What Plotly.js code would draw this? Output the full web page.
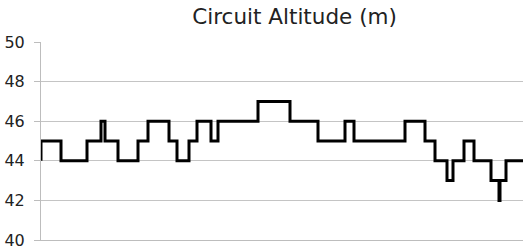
<!DOCTYPE html>
<html><head><meta charset="utf-8">
<script src="https://cdn.plot.ly/plotly-3.0.1.min.js"></script>
<style>html,body{margin:0;padding:0;background:#fff;}#chart{width:526px;height:250px;}</style>
</head><body><div id="chart"></div>
<script>
const distance = [0, 0, 20, 46, 60, 64, 77, 97, 107, 128, 136, 148, 156, 170, 177, 217, 249, 277, 304, 313, 364, 384, 394, 406, 412, 423, 433, 450, 458, 459, 465, 482];
const altitude = [44, 45, 44, 45, 46, 45, 44, 45, 46, 45, 44, 45, 46, 45, 46, 47, 46, 45, 46, 45, 46, 45, 44, 43, 44, 45, 44, 43, 42, 43, 44, 44];
const yTicks = [40, 42, 44, 46, 48, 50];
const chartTitle = 'Circuit Altitude (m)';

Plotly.newPlot('chart', [{
  x: distance, y: altitude, type: 'scatter', mode: 'lines',
  line: {shape: 'hv', color: '#000', width: 3}, hoverinfo: 'skip'
}], {
  width: 526, height: 250,
  margin: {l: 41, r: 3, t: 42, b: 10},
  paper_bgcolor: '#fff', plot_bgcolor: '#fff',
  showlegend: false,
  title: {text: chartTitle, x: 0.56, xanchor: 'center', y: 0.935, yanchor: 'middle',
          font: {family: 'DejaVu Sans', size: 21.5, color: '#222'}},
  xaxis: {range: [0, 482], showgrid: false, zeroline: false, showticklabels: false,
          showline: true, linecolor: '#bdbdbd', linewidth: 1, ticks: ''},
  yaxis: {range: [40, 50], tickvals: yTicks, showgrid: true, gridcolor: '#c4c4c4', gridwidth: 1,
          zeroline: false, showline: true, linecolor: '#bdbdbd', linewidth: 1,
          ticks: 'outside', ticklen: 6, tickcolor: '#bdbdbd', ticklabelstandoff: 6,
          tickfont: {family: 'DejaVu Sans', size: 16, color: '#222'}}
}, {displayModeBar: false, staticPlot: true});
</script></body></html>
